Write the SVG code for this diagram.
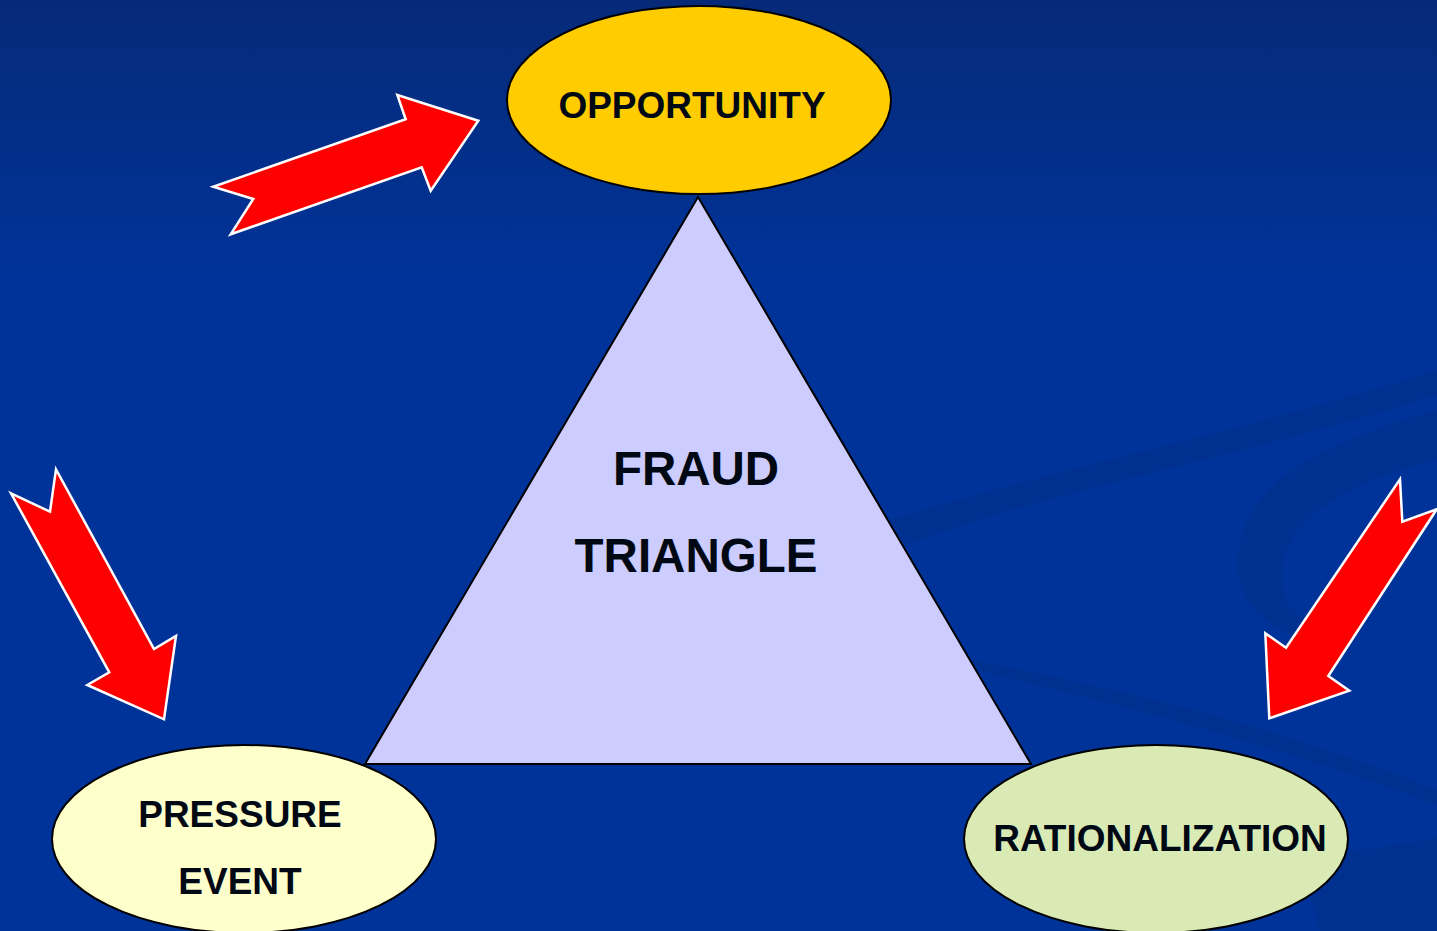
<svg xmlns="http://www.w3.org/2000/svg" width="1437" height="931" viewBox="0 0 1437 931">
<defs>
<linearGradient id="bg" x1="0" y1="0" x2="0" y2="1">
<stop offset="0" stop-color="#062a78"/>
<stop offset="0.3" stop-color="#003399"/>
<stop offset="1" stop-color="#003399"/>
</linearGradient>
<style>
.lbl{font-family:"Liberation Sans",Arial,sans-serif;font-weight:bold;fill:#000814;text-anchor:middle}
.arrow{fill:#ff0000;stroke:#ffffff;stroke-width:2.5;stroke-linejoin:miter}
.node{stroke:#000000;stroke-width:2}
.swoosh{fill:#002f8c;opacity:0.7}
</style>
</defs>
<rect x="0" y="0" width="1437" height="931" fill="url(#bg)"/>
<g id="background-swooshes">
<path class="swoosh" d="M890,520 C1050,470 1250,430 1437,370 L1437,395 C1250,455 1050,490 905,545 Z"/>
<path class="swoosh" d="M1437,410 C1330,440 1240,480 1238,560 C1236,600 1260,620 1300,640 L1320,632 C1290,615 1280,595 1282,570 C1285,520 1350,480 1437,460 Z"/>
<path class="swoosh" d="M970,660 C1120,690 1260,720 1437,790 L1437,805 C1260,740 1120,705 975,670 Z" opacity="0.5"/>
<path class="swoosh" d="M1300,860 C1350,850 1400,845 1437,838 L1437,931 L1320,931 Z" opacity="0.5"/>
</g>
<g id="connectors">
<polygon class="arrow" points="213.3,186.7 253.3,199 230.7,234.3 421.7,167.3 430.7,190.7 478.3,120.7 397.3,95 405.7,119.3"/>
<polygon class="arrow" points="11,493.3 50,511.7 56,469.3 154,649 176,636 164,719.3 87.3,685 109.3,672.3"/>
<polygon class="arrow" points="1400,479.3 1402.3,521.7 1436.7,509.3 1328.3,676 1349.3,690.7 1269.3,718.3 1265.3,633.3 1286,647.7"/>
</g>
<g id="fraud-triangle">
<polygon points="698,197 365,764 1031,764" fill="#ccccff" stroke="#000000" stroke-width="2"/>
<text class="lbl" x="696" y="485" font-size="47.5">FRAUD</text>
<text class="lbl" x="696" y="572" font-size="47.5">TRIANGLE</text>
</g>
<g id="opportunity">
<ellipse class="node" cx="699" cy="100" rx="192" ry="94" fill="#ffcc00"/>
<text class="lbl" x="692" y="118" font-size="37">OPPORTUNITY</text>
</g>
<g id="pressure-event">
<ellipse class="node" cx="244" cy="839" rx="192" ry="94" fill="#ffffcc"/>
<text class="lbl" x="240" y="827" font-size="37">PRESSURE</text>
<text class="lbl" x="240" y="894" font-size="37">EVENT</text>
</g>
<g id="rationalization">
<ellipse class="node" cx="1156" cy="839" rx="192" ry="94" fill="#d9eab5"/>
<text class="lbl" x="1160" y="851" font-size="37">RATIONALIZATION</text>
</g>
</svg>
